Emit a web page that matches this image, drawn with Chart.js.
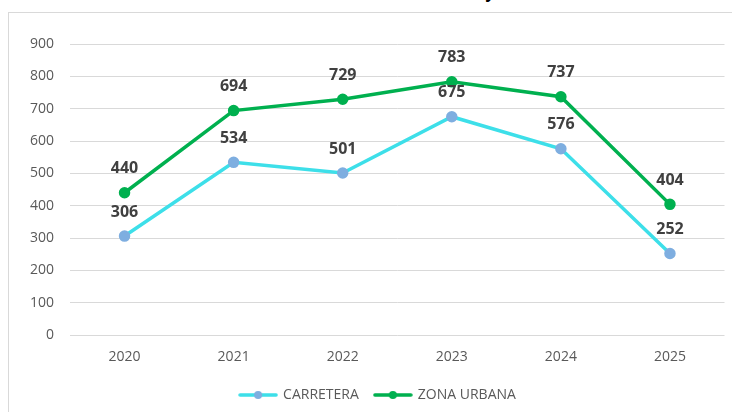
<!DOCTYPE html>
<html>
<head>
<meta charset="utf-8">
<script src="https://cdn.jsdelivr.net/npm/chart.js@4.4.1/dist/chart.umd.min.js"></script>
<style>
  body { margin: 0; background: #fff; }
  #wrap { position: relative; width: 732px; height: 412px; overflow: hidden; }
  #box { position: absolute; left: 8px; top: 12px; width: 760px; height: 440px; border: 1px solid #d9d9d9; }
  #title { position: absolute; left: 0; width: 980px; top: -19px; text-align: center; font: bold 16px "Open Sans", sans-serif; color: #000; }
  canvas { position: absolute; left: 0; top: 0; }
</style>
</head>
<body>
<div id="wrap">
  <div id="title">y</div>
  <div id="box"></div>
  <canvas id="chart1" width="732" height="412"></canvas>
</div>
<script>
const years = ['2020', '2021', '2022', '2023', '2024', '2025'];
const carretera = [306, 534, 501, 675, 576, 252];
const zonaUrbana = [440, 694, 729, 783, 737, 404];
const yTicks = [0, 100, 200, 300, 400, 500, 600, 700, 800, 900];

const colors = {
  'cyan': '#3ddfe9',
  'cyanPoint': '#7eaee0',
  'green': '#00b04f'
};

// little line + dot marker for the legend
const makeMarker = (lineColor, dotColor) => {
  const c = document.createElement('canvas');
  c.width = 40; c.height = 12;
  const g = c.getContext('2d');
  g.strokeStyle = lineColor;
  g.lineWidth = 3.5;
  g.lineCap = 'round';
  g.beginPath(); g.moveTo(2, 6); g.lineTo(38, 6); g.stroke();
  g.fillStyle = dotColor;
  g.beginPath(); g.arc(20, 6, 4, 0, Math.PI * 2); g.fill();
  return c;
};

const valueLabels = {
  id: 'valueLabels',
  afterDatasetsDraw(chart) {
    const c = chart.ctx;
    c.save();
    c.font = 'bold 16px "Open Sans", sans-serif';
    c.fillStyle = '#404040';
    c.textAlign = 'center';
    c.textBaseline = 'middle';
    chart.data.datasets.forEach((ds, i) => {
      chart.getDatasetMeta(i).data.forEach((pt, j) => {
        c.fillText(ds.data[j], pt.x, pt.y - 24);
      });
    });
    c.restore();
  }
};

const createDataset = (label, data, line, point, marker) => ({
  label: label,
  data: data,
  borderColor: line,
  backgroundColor: point,
  pointBackgroundColor: point,
  pointBorderColor: point,
  pointRadius: 4,
  pointHoverRadius: 4,
  borderWidth: 3.5,
  tension: 0,
  fill: false,
  marker: marker
});

const tickFont = { size: 14, family: '"Open Sans", sans-serif' };

const config = {
  type: 'line',
  data: {
    labels: years,
    datasets: [
      createDataset('CARRETERA', carretera, colors.cyan, colors.cyanPoint, makeMarker(colors.cyan, colors.cyanPoint)),
      createDataset('ZONA URBANA', zonaUrbana, colors.green, colors.green, makeMarker(colors.green, colors.green))
    ]
  },
  options: {
    responsive: false,
    animation: false,
    layout: { padding: { top: 44, right: 0, left: 24, bottom: 0 } },
    scales: {
      x: {
        offset: true,
        grid: { display: false, drawTicks: false },
        border: { display: false },
        afterFit: (axis) => { axis.height = 37; axis.paddingLeft = 0; axis.paddingRight = 0; },
        ticks: { color: '#595959', font: tickFont, padding: 14 }
      },
      y: {
        min: 0,
        max: 900,
        afterBuildTicks: (axis) => { axis.ticks = yTicks.map(v => ({ value: v })); },
        afterFit: (axis) => { axis.width = 46; },
        grid: { color: '#d9d9d9', lineWidth: 1, drawTicks: false },
        border: { display: false },
        ticks: { color: '#595959', font: tickFont, padding: 16 }
      }
    },
    plugins: {
      tooltip: { enabled: false },
      legend: {
        position: 'bottom',
        labels: {
          color: '#595959',
          font: tickFont,
          usePointStyle: true,
          pointStyleWidth: 36,
          padding: 16,
          generateLabels: (chart) => chart.data.datasets.map((ds, i) => ({
            text: ds.label,
            pointStyle: ds.marker,
            fillStyle: ds.borderColor,
            strokeStyle: ds.borderColor,
            lineWidth: 0,
            datasetIndex: i,
            fontColor: '#595959'
          }))
        }
      }
    }
  },
  plugins: [valueLabels]
};

new Chart(document.getElementById('chart1'), config);
</script>
</body>
</html>
